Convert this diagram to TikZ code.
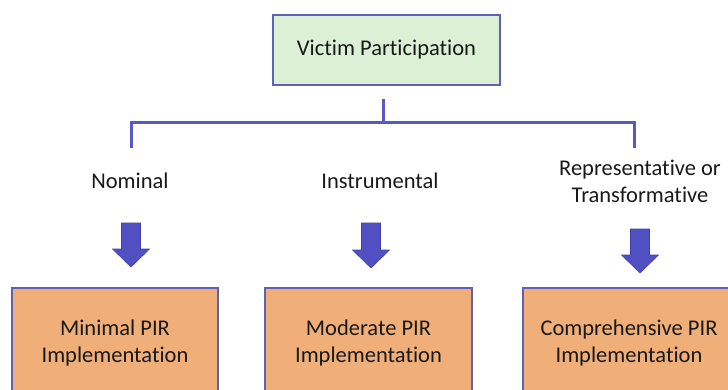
\documentclass[tikz,border=0pt]{standalone}
\usepackage{fontspec}
\setmainfont{Carlito}[Ligatures={NoCommon}]
\begin{document}
\begin{tikzpicture}[x=1pt,y=-1pt,
  font=\fontsize{22.5}{27}\selectfont,
  every node/.style={text=black!90},
  line/.style={draw=linkblue,line width=3pt},
  headbox/.style={draw=boxblue,line width=1.1pt,fill=headgreen,minimum width=227pt,minimum height=70pt,inner sep=0pt},
  outbox/.style={draw=boxblue,line width=1.1pt,fill=outorange,minimum height=110pt,inner sep=0pt,align=center},
  lbl/.style={align=center,inner sep=0pt},
  blockarrow/.style={fill=arrowblue,draw=arrowedge,line width=0.6pt,line join=miter}
]
\definecolor{linkblue}{RGB}{88,88,200}
\definecolor{boxblue}{RGB}{96,96,180}
\definecolor{headgreen}{RGB}{219,240,212}
\definecolor{outorange}{RGB}{240,175,121}
\definecolor{arrowblue}{RGB}{80,80,194}
\definecolor{arrowedge}{RGB}{66,66,170}

\useasboundingbox (0,0) rectangle (728,389);
\clip (0,0) rectangle (728,389);

% root of the tree
\node[headbox] (root) at (386.5,50) {Victim Participation};

% bracket joining the root to its three kinds
\coordinate (stemtop) at (383,99);
\coordinate (stembot) at (383,122);
\coordinate (leftend) at (131,122);
\coordinate (rightend) at (634,122);
\coordinate (lefttick) at (131,146);
\coordinate (righttick) at (634,146);
\draw[line] (stemtop) -- (stembot);
\draw[line,line cap=rect] (lefttick) -- (leftend) -- (rightend) -- (righttick);

% kinds of participation
\node[lbl] (nominal) at (130,181) {Nominal};
\node[lbl] (instr) at (380,181) {Instrumental};
\node[lbl] (repr) at (640,181) {Representative or\\Transformative};

% block arrows: shaft half-width 9.5, head half-width 18.5, head length 18
\newcommand{\blockdown}[3]{%
  \draw[blockarrow] (#1-9.5,#2) -- (#1+9.5,#2) -- (#1+9.5,#3-18) -- (#1+18.5,#3-18)
    -- (#1,#3) -- (#1-18.5,#3-18) -- (#1-9.5,#3-18) -- cycle;}
\blockdown{131}{223}{267}
\blockdown{371}{223}{268}
\blockdown{640}{229}{273}

% resulting levels of implementation
\node[outbox,minimum width=206pt] (minimal) at (115,343) {Minimal PIR\\Implementation};
\node[outbox,minimum width=207pt] (moderate) at (368.5,343) {Moderate PIR\\Implementation};
\node[outbox,minimum width=212pt] (compr) at (629,343) {Comprehensive PIR\\Implementation};
\end{tikzpicture}
\end{document}
